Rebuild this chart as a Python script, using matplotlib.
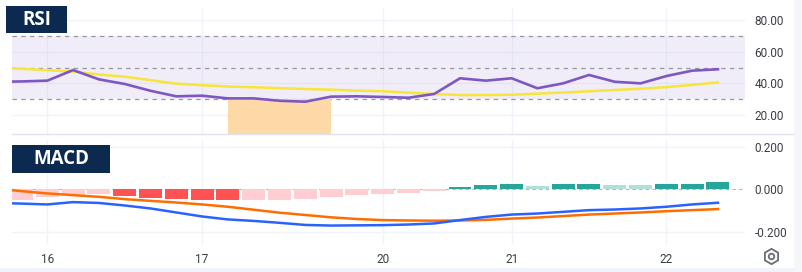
import matplotlib
matplotlib.use("Agg")
import matplotlib.pyplot as plt
import matplotlib.ticker as mtick
from matplotlib.patches import Rectangle
import numpy as np

plt.rcParams['font.family'] = ['Roboto', 'DejaVu Sans']

# bar index -1..27 for lines, 0..27 for histogram
rsi = [41.0, 41.2, 41.7, 48.4, 42.5, 39.6, 35.3, 31.8, 32.2, 30.5, 30.5, 29.0, 28.4, 31.6, 31.8,
       31.4, 30.9, 33.3, 43.2, 41.7, 43.2, 36.9, 40.0, 45.3, 41.0, 40.0, 44.6, 48.0, 48.9]
rsi_ma = [50.0, 49.2, 48.3, 47.4, 45.6, 44.2, 42.0, 39.8, 38.8, 38.0, 37.5, 37.0, 36.4, 36.0, 35.4,
          35.0, 34.1, 33.3, 32.6, 32.6, 32.8, 33.5, 34.2, 35.0, 35.8, 36.6, 37.6, 39.0, 40.6]
macd = [-0.064, -0.067, -0.071, -0.060, -0.064, -0.076, -0.090, -0.109, -0.128, -0.142, -0.149,
        -0.158, -0.168, -0.171, -0.170, -0.169, -0.166, -0.161, -0.145, -0.130, -0.119, -0.114,
        -0.106, -0.098, -0.095, -0.090, -0.082, -0.071, -0.063]
signal = [0.004, -0.008, -0.019, -0.027, -0.035, -0.046, -0.054, -0.062, -0.071, -0.082, -0.096,
          -0.110, -0.121, -0.132, -0.140, -0.145, -0.147, -0.148, -0.147, -0.144, -0.138, -0.133,
          -0.126, -0.119, -0.114, -0.109, -0.103, -0.098, -0.093]
hist = [-0.052, -0.035, -0.027, -0.020, -0.033, -0.040, -0.047, -0.051, -0.052, -0.050, -0.0495,
        -0.046, -0.038, -0.027, -0.022, -0.019, -0.006, 0.010, 0.019, 0.024, 0.016, 0.024, 0.028,
        0.020, 0.020, 0.024, 0.028, 0.036]
day_pos = [1, 7, 14, 19, 25]
day_labels = ['16', '17', '20', '21', '22']
oversold_span = (8, 12)

line_x = np.arange(-1, len(rsi) - 1)
bar_x = np.arange(len(hist))

# tradingview style histogram colours
colors = []
prev = hist[0]
for h in hist:
    if h < 0:
        colors.append('#ff5252' if h < prev else '#ffcdd2')
    else:
        colors.append('#26a69a' if h > prev else '#b2dfdb')
    prev = h

W, H = 803, 272
fig = plt.figure(figsize=(W / 100, H / 100), dpi=100)

def px_axes(x0, y0, x1, y1):
    return fig.add_axes([x0 / W, 1 - y1 / H, (x1 - x0) / W, (y1 - y0) / H])

xlim = (-0.37, 28.05)
grid_c = '#f0f3fa'

ax1 = px_axes(12, 8, 745, 134)
ax2 = px_axes(12, 140, 745, 245)

for ax in (ax1, ax2):
    for s in ax.spines.values():
        s.set_visible(False)
    ax.set_xlim(*xlim)
    ax.yaxis.tick_right()
    ax.tick_params(axis='both', length=0, labelsize=8.5, labelcolor='#3a3d45', pad=7)
    ax.set_xticks(day_pos)
    for p in day_pos:
        ax.axvline(p, color=grid_c, lw=1, zorder=0)

# RSI
ax1.set_ylim(8.0, 87.6)
ax1.set_yticks([20, 40, 60, 80])
ax1.yaxis.set_major_formatter(mtick.FormatStrFormatter('%.2f'))
for v in [20, 40, 60, 80]:
    ax1.axhline(v, color=grid_c, lw=1, zorder=0)
ax1.axhspan(30, 70, color='#7e57c2', alpha=0.1, lw=0, zorder=0.5)
for v in [30, 50, 70]:
    ax1.axhline(v, color='#9598a1', lw=0.9, dashes=(3.5, 3.5), zorder=1)
ax1.add_patch(Rectangle((oversold_span[0], 0), oversold_span[1] - oversold_span[0], 30,
                        facecolor='#fdd9a8', edgecolor='none', zorder=1.5))
ax1.plot(line_x, rsi_ma, color='#f7e53b', lw=1.8, zorder=3)
ax1.plot(line_x, rsi, color='#7e57c2', lw=1.9, zorder=4)
ax1.set_xticklabels([])

# MACD
ax2.set_ylim(-0.263, 0.234)
ax2.set_yticks([-0.2, 0, 0.2])
ax2.yaxis.set_major_formatter(mtick.FormatStrFormatter('%.3f'))
for v in [-0.2, 0.2]:
    ax2.axhline(v, color=grid_c, lw=1, zorder=0)
ax2.axhline(0, color='#b2b5be', lw=0.8, dashes=(3, 3), zorder=1)
ax2.bar(bar_x, hist, width=0.89, color=colors, zorder=2)
ax2.plot(line_x, signal, color='#ff6d00', lw=1.8, zorder=3)
ax2.plot(line_x, macd, color='#2962ff', lw=1.8, zorder=4)
ax2.set_xticklabels(day_labels)
ax2.tick_params(axis='x', pad=6)

# overlay in pixel coordinates
ov = fig.add_axes([0, 0, 1, 1], zorder=10)
ov.set_xlim(0, W)
ov.set_ylim(H, 0)
ov.axis('off')
ov.patch.set_alpha(0)
ov.plot([12, 793], [134, 134], color='#e0e3eb', lw=1)
ov.add_patch(Rectangle((0, 268), W, 4, facecolor='#f0f3fa', edgecolor='none'))
ov.add_patch(Rectangle((794, 0), 9, H, facecolor='#f5f6fa', edgecolor='none'))
ov.add_patch(Rectangle((6, 6), 61, 27, facecolor='#0c2a50', edgecolor='none'))
ov.text(36.5, 20, 'RSI', color='white', fontsize=13.5, fontweight='bold',
        family=['Open Sans', 'DejaVu Sans'], ha='center', va='center')
ov.add_patch(Rectangle((12, 145), 98, 28, facecolor='#0c2a50', edgecolor='none'))
ov.text(61, 159, 'MACD', color='white', fontsize=13.5, fontweight='bold',
        family=['Open Sans', 'DejaVu Sans'], ha='center', va='center')
ov.plot([771], [256], marker='h', ms=11, mfc='none', mec='#6a6d78', mew=1.3)
ov.plot([771], [256], marker='o', ms=4, mfc='none', mec='#6a6d78', mew=1.3)

fig.savefig('out.png', dpi=100)
